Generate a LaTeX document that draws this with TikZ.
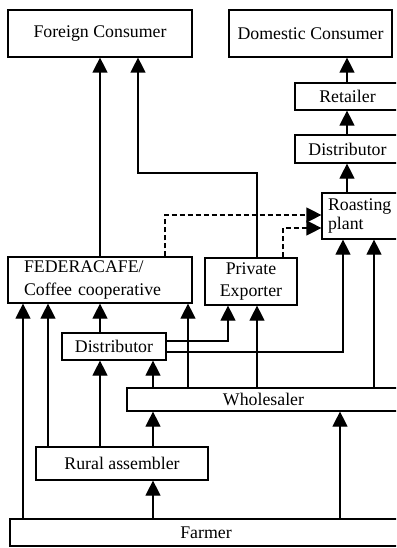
\documentclass[tikz,border=0pt]{standalone}
\usepackage{fontspec}
\setmainfont{Liberation Serif}
\usetikzlibrary{arrows.meta}
\begin{document}
\begin{tikzpicture}[x=1pt,y=-1pt,
  box/.style={draw, line width=1.2pt, rectangle, inner sep=0pt, font=\fontsize{17.8}{22}\selectfont},
  arr/.style={line width=1.2pt, -{Triangle[length=15pt,width=15pt]}},
  dsh/.style={arr, dash pattern=on 5pt off 3pt}]
\useasboundingbox (0,0) rectangle (396,548);
\clip (0,0) rectangle (396,548);
\fill[white] (0,0) rectangle (396,548);
% nodes
\node[box, minimum width=184, minimum height=47] (fc) at (100,33.5) {Foreign Consumer};
\node[box, minimum width=163, minimum height=47] (dc) at (310.5,33.5) {Domestic Consumer};
\node[box, minimum width=105, minimum height=27] (ret) at (347.5,96.5) {Retailer};
\node[box, minimum width=105, minimum height=28] (dA) at (347.5,149) {Distributor};
\node[box, minimum width=78, minimum height=46, text width=66, inner xsep=6, align=left, font=\fontsize{17.8}{19}\selectfont] (roast) at (361,216) {\raisebox{-3pt}{Roasting}\\\raisebox{-3pt}{plant}};
\node[box, minimum width=184, minimum height=46, text width=152, inner xsep=16, align=left, font=\fontsize{17.8}{23}\selectfont] (fed) at (100,280) {FEDERACAFE/\\Coffee cooperative};
\node[box, minimum width=92, minimum height=47, align=center, font=\fontsize{17.8}{22}\selectfont] (pe) at (251,281.5) {Private\\Exporter};
\node[box, minimum width=104, minimum height=27] (dB) at (114,346.5) {Distributor};
\node[box, minimum width=273, minimum height=23] (wh) at (263.5,399.5) {Wholesaler};
\node[box, minimum width=172, minimum height=33] (ru) at (122,463.5) {Rural assembler};
\node[box, minimum width=392, minimum height=27] (fa) at (206,532.5) {Farmer};
% top part
\draw[arr] (100,0 |- fed.north) -- (100,0 |- fc.south);
\draw[arr] (257,0 |- pe.north) -- (257,173) -| (138,0 |- fc.south);
\draw[arr] (347,0 |- ret.north) -- (347,0 |- dc.south);
\draw[arr] (347,0 |- dA.north) -- (347,0 |- ret.south);
\draw[arr] (347,0 |- roast.north) -- (347,0 |- dA.south);
\draw[dsh] (165,0 |- fed.north) |- (roast.west |- 0,215);
\draw[dsh] (283,0 |- pe.north) |- (roast.west |- 0,228);
% into FEDERACAFE
\draw[arr] (23,0 |- fa.north) -- (23,0 |- fed.south);
\draw[arr] (48,0 |- ru.north) -- (48,0 |- fed.south);
\draw[arr] (100,0 |- dB.north) -- (100,0 |- fed.south);
\draw[arr] (188,0 |- wh.north) -- (188,0 |- fed.south);
% distributor outputs
\draw[arr] (dB.east |- 0,341) -| (228,0 |- pe.south);
\draw[arr] (dB.east |- 0,352) -| (343,0 |- roast.south);
% wholesaler outputs
\draw[arr] (153,0 |- wh.north) -- (153,0 |- dB.south);
\draw[arr] (257,0 |- wh.north) -- (257,0 |- pe.south);
\draw[arr] (374,0 |- wh.north) -- (374,0 |- roast.south);
% rural assembler outputs
\draw[arr] (100,0 |- ru.north) -- (100,0 |- dB.south);
\draw[arr] (153,0 |- ru.north) -- (153,0 |- wh.south);
% farmer outputs
\draw[arr] (153,0 |- fa.north) -- (153,0 |- ru.south);
\draw[arr] (340,0 |- fa.north) -- (340,0 |- wh.south);
\end{tikzpicture}
\end{document}
